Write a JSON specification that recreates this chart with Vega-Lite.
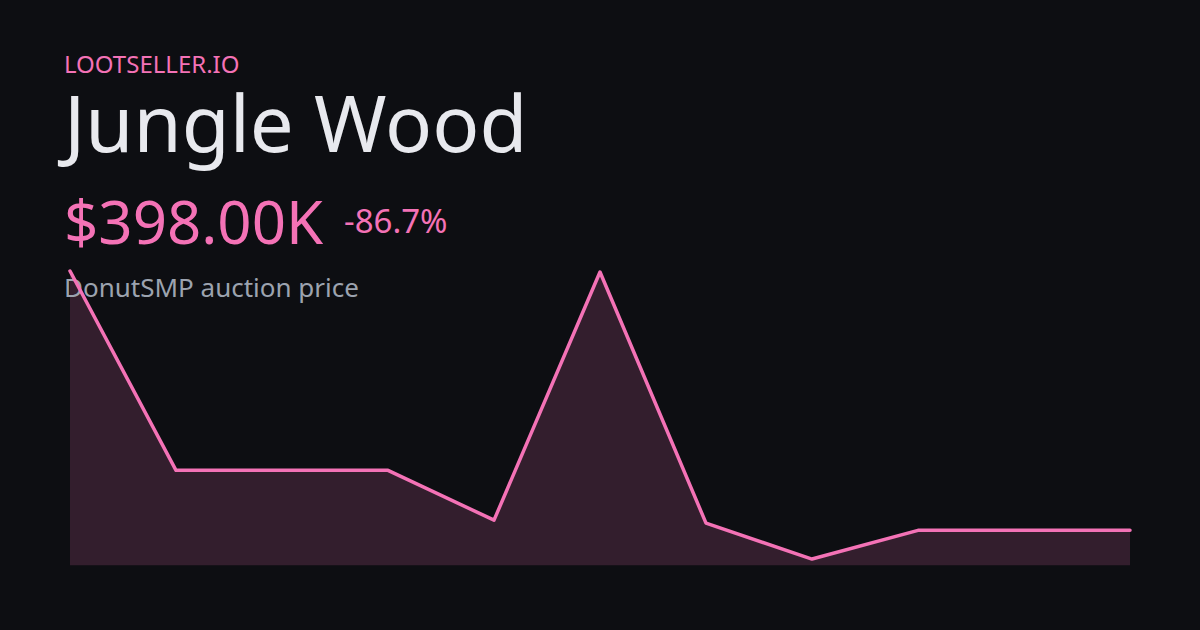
{
  "$schema": "https://vega.github.io/schema/vega-lite/v6.json",
  "width": 1060,
  "height": 300,
  "autosize": {"type": "none"},
  "padding": {"left": 70, "top": 270, "right": 70, "bottom": 60},
  "background": "#0d0e12",
  "config": {"view": {"stroke": null}},
  "datasets": {
    "prices": [
      {"t": 0, "price": 3000000},
      {"t": 1, "price": 1000000},
      {"t": 2, "price": 1000000},
      {"t": 3, "price": 1000000},
      {"t": 4, "price": 500000},
      {"t": 5, "price": 2990000},
      {"t": 6, "price": 470000},
      {"t": 7, "price": 110000},
      {"t": 8, "price": 398000},
      {"t": 9, "price": 398000},
      {"t": 10, "price": 398000}
    ],
    "header": [
      {"role": "brand", "text": "LOOTSELLER.IO"},
      {"role": "item", "text": "Jungle Wood"},
      {"role": "price", "text": "$398.00K"},
      {"role": "change", "text": "-86.7%"},
      {"role": "caption", "text": "DonutSMP auction price"}
    ]
  },
  "layer": [
    {
      "data": {"name": "prices"},
      "mark": {"type": "area", "color": "#f472b6", "opacity": 0.17},
      "encoding": {
        "x": {"field": "t", "type": "quantitative", "scale": {"domain": [0, 10], "nice": false, "zero": false}, "axis": null},
        "y": {"field": "price", "type": "quantitative", "scale": {"domain": [0, 3010000], "nice": false}, "axis": null},
        "y2": {"datum": 47000}
      }
    },
    {
      "data": {"name": "header"},
      "transform": [{"filter": "datum.role === 'brand'"}],
      "mark": {"type": "text", "font": "Noto Sans", "fontSize": 24, "color": "#f472b6", "align": "left", "baseline": "alphabetic"},
      "encoding": {
        "text": {"field": "text"},
        "x": {"datum": -0.0566, "type": "quantitative", "scale": {"domain": [0, 10], "nice": false, "zero": false}, "axis": null},
        "y": {"datum": 4989600, "type": "quantitative", "scale": {"domain": [0, 3010000], "nice": false}, "axis": null}
      }
    },
    {
      "data": {"name": "header"},
      "transform": [{"filter": "datum.role === 'item'"}],
      "mark": {"type": "text", "font": "Noto Sans", "fontSize": 78, "color": "#e8e9ee", "align": "left", "baseline": "alphabetic"},
      "encoding": {
        "text": {"field": "text"},
        "x": {"datum": -0.0566, "type": "quantitative", "scale": {"domain": [0, 10], "nice": false, "zero": false}, "axis": null},
        "y": {"datum": 4196900, "type": "quantitative", "scale": {"domain": [0, 3010000], "nice": false}, "axis": null}
      }
    },
    {
      "data": {"name": "header"},
      "transform": [{"filter": "datum.role === 'price'"}],
      "mark": {"type": "text", "font": "Noto Sans", "fontSize": 60, "color": "#f472b6", "align": "left", "baseline": "alphabetic"},
      "encoding": {
        "text": {"field": "text"},
        "x": {"datum": -0.0566, "type": "quantitative", "scale": {"domain": [0, 10], "nice": false, "zero": false}, "axis": null},
        "y": {"datum": 3267800, "type": "quantitative", "scale": {"domain": [0, 3010000], "nice": false}, "axis": null}
      }
    },
    {
      "data": {"name": "header"},
      "transform": [{"filter": "datum.role === 'change'"}],
      "mark": {"type": "text", "font": "Noto Sans", "fontSize": 33, "color": "#f472b6", "align": "left", "baseline": "alphabetic"},
      "encoding": {
        "text": {"field": "text"},
        "x": {"datum": 2.585, "type": "quantitative", "scale": {"domain": [0, 10], "nice": false, "zero": false}, "axis": null},
        "y": {"datum": 3378200, "type": "quantitative", "scale": {"domain": [0, 3010000], "nice": false}, "axis": null}
      }
    },
    {
      "data": {"name": "header"},
      "transform": [{"filter": "datum.role === 'caption'"}],
      "mark": {"type": "text", "font": "Noto Sans", "fontSize": 26, "color": "#9ca3af", "align": "left", "baseline": "alphabetic"},
      "encoding": {
        "text": {"field": "text"},
        "x": {"datum": -0.0566, "type": "quantitative", "scale": {"domain": [0, 10], "nice": false, "zero": false}, "axis": null},
        "y": {"datum": 2736100, "type": "quantitative", "scale": {"domain": [0, 3010000], "nice": false}, "axis": null}
      }
    },
    {
      "data": {"name": "prices"},
      "mark": {"type": "line", "color": "#f472b6", "strokeWidth": 3.5, "strokeCap": "round", "strokeJoin": "round"},
      "encoding": {
        "x": {"field": "t", "type": "quantitative", "scale": {"domain": [0, 10], "nice": false, "zero": false}, "axis": null},
        "y": {"field": "price", "type": "quantitative", "scale": {"domain": [0, 3010000], "nice": false}, "axis": null}
      }
    }
  ]
}
